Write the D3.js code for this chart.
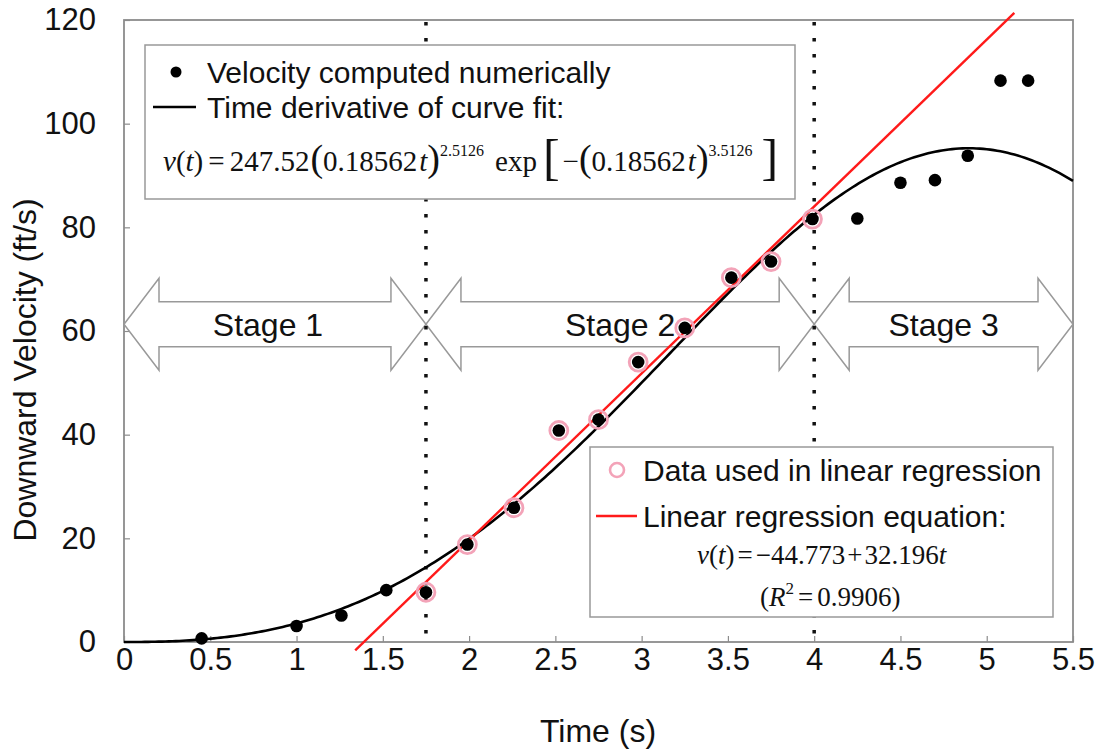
<!DOCTYPE html>
<html><head><meta charset="utf-8">
<script src="https://cdn.jsdelivr.net/npm/d3@7"></script>
<style>body{margin:0;background:#fff} svg{display:block}</style>
</head><body><svg id="c" width="1101" height="752"></svg>
<script>
// ---- data ----
const timeS = [0.45, 1.0, 1.26, 1.52, 1.75, 1.99, 2.26, 2.52, 2.75, 2.98, 3.25, 3.52, 3.75, 3.99, 4.25, 4.5, 4.7, 4.89, 5.08, 5.24];
const velocity = [0.7, 3.1, 5.1, 10.0, 9.6, 18.8, 25.9, 40.8, 42.9, 54.0, 60.6, 70.3, 73.4, 81.6, 81.7, 88.6, 89.1, 93.8, 108.3, 108.3];
const usedInRegression = [0,0,0,0,1,1,1,1,1,1,1,1,1,1,0,0,0,0,0,0];
const xTicks = [0, 0.5, 1, 1.5, 2, 2.5, 3, 3.5, 4, 4.5, 5, 5.5];
const xTickLabels = ["0","0.5","1","1.5","2","2.5","3","3.5","4","4.5","5","5.5"];
const yTicks = [0, 20, 40, 60, 80, 100, 120];
const yTickLabels = ["0","20","40","60","80","100","120"];
const stageBounds = [0, 1.75, 4.0, 5.5];
const stageLabels = ["Stage 1", "Stage 2", "Stage 3"];
const stageCenterV = 61.3;
const dividerTimes = [1.75, 4.0];
const fitParams = [247.52, 0.18562, 2.5126];   // v = A (b t)^c exp[-(b t)^(c+1)]
const regParams = [-44.773, 32.196];          // v = a + b t
const regRange = [1.34, 5.16];

// ---- layout ----
const svg = d3.select("#c");
const L = 124, R = 1073, T = 20, B = 642;
const x = d3.scaleLinear().domain([0, 5.5]).range([L, R]);
const y = d3.scaleLinear().domain([0, 120]).range([B, T]);
const SANS = "Liberation Sans, Arial, Helvetica, sans-serif";
const SERIF = "Liberation Serif, Times New Roman, serif";
const GRAY = "#8c8c8c";
const INK = "#111";

// axes
const gx = svg.append("g").attr("transform", `translate(0,${B})`)
  .call(d3.axisBottom(x).tickValues(xTicks).tickFormat((d,i)=>xTickLabels[i]).tickSizeInner(-6).tickSizeOuter(0).tickPadding(6));
const gy = svg.append("g").attr("transform", `translate(${L},0)`)
  .call(d3.axisLeft(y).tickValues(yTicks).tickFormat((d,i)=>yTickLabels[i]).tickSizeInner(-6).tickSizeOuter(0).tickPadding(28));
[gx, gy].forEach(g => {
  g.select(".domain").remove();
  g.selectAll(".tick line").attr("stroke", GRAY).attr("stroke-width", 1.2);
  g.selectAll(".tick text").attr("font-family", SANS).attr("font-size", 31).attr("fill", INK);
});
svg.append("rect").attr("x", L).attr("y", T).attr("width", R - L).attr("height", B - T)
  .attr("fill", "none").attr("stroke", GRAY).attr("stroke-width", 1.8);

svg.append("text").attr("x", 598).attr("y", 742).attr("text-anchor", "middle")
  .attr("font-family", SANS).attr("font-size", 32).attr("fill", INK).text("Time (s)");
svg.append("text").attr("transform", `translate(36,370) rotate(-90)`).attr("text-anchor", "middle")
  .attr("font-family", SANS).attr("font-size", 32).attr("fill", INK).text("Downward Velocity (ft/s)");

// stage arrows
const headLen = 35, headHalf = 46, shaftHalf = 22.5;
function arrowPath(t0, t1, v) {
  const x0 = x(t0), x1 = x(t1), yc = y(v);
  return `M${x0},${yc} L${x0+headLen},${yc-headHalf} L${x0+headLen},${yc-shaftHalf} L${x1-headLen},${yc-shaftHalf} L${x1-headLen},${yc-headHalf} L${x1},${yc} L${x1-headLen},${yc+headHalf} L${x1-headLen},${yc+shaftHalf} L${x0+headLen},${yc+shaftHalf} L${x0+headLen},${yc+headHalf} Z`;
}
stageLabels.forEach((lab, i) => {
  svg.append("path").attr("d", arrowPath(stageBounds[i], stageBounds[i+1], stageCenterV))
    .attr("fill", "none").attr("stroke", "#999").attr("stroke-width", 1.5).attr("stroke-linejoin", "miter");
  svg.append("text").attr("x", (x(stageBounds[i]) + x(stageBounds[i+1])) / 2 - (i === 0 ? 7 : 0)).attr("y", y(stageCenterV) + 12)
    .attr("text-anchor", "middle").attr("font-family", SANS).attr("font-size", 32).attr("fill", INK).text(lab);
});

// dotted dividers
dividerTimes.forEach(t => {
  svg.append("line").attr("x1", x(t)).attr("x2", x(t)).attr("y1", T + 2).attr("y2", B)
    .attr("stroke", INK).attr("stroke-width", 3.5).attr("stroke-dasharray", "3.5 12.5");
});

// fitted curve
const fitT = d3.range(0, 5.5001, 0.02);
const fitV = fitT.map(t => fitParams[0] * Math.pow(fitParams[1] * t, fitParams[2]) * Math.exp(-Math.pow(fitParams[1] * t, fitParams[2] + 1)));
svg.append("path").datum(fitT.map((t, i) => [t, fitV[i]]))
  .attr("d", d3.line().x(d => x(d[0])).y(d => y(d[1])))
  .attr("fill", "none").attr("stroke", "#000").attr("stroke-width", 2.6);

// regression line
svg.append("path").datum(regRange.map(t => [t, regParams[0] + regParams[1] * t]))
  .attr("d", d3.line().x(d => x(d[0])).y(d => y(d[1])))
  .attr("fill", "none").attr("stroke", "#ff1a1a").attr("stroke-width", 2.4);

// points
const pts = timeS.map((t, i) => ({t, v: velocity[i], reg: usedInRegression[i]}));
svg.selectAll(".ring").data(pts.filter(d => d.reg)).enter().append("circle")
  .attr("cx", d => x(d.t)).attr("cy", d => y(d.v)).attr("r", 9)
  .attr("fill", "none").attr("stroke", "#f3a3b8").attr("stroke-width", 2.8);
svg.selectAll(".dot").data(pts).enter().append("circle")
  .attr("cx", d => x(d.t)).attr("cy", d => y(d.v)).attr("r", 6.3).attr("fill", "#000");

function ts(parent, txt, opts = {}) {
  const s = parent.append("tspan").text(txt);
  if (opts.it) s.attr("font-style", "italic");
  if (opts.fs) s.attr("font-size", opts.fs);
  if (opts.dy !== undefined) s.attr("dy", opts.dy);
  if (opts.dx !== undefined) s.attr("dx", opts.dx);
  return s;
}

// legend 1
svg.append("rect").attr("x", 145).attr("y", 45).attr("width", 650).attr("height", 154)
  .attr("fill", "#fff").attr("stroke", "#999").attr("stroke-width", 1.5);
svg.append("circle").attr("cx", 176).attr("cy", 72).attr("r", 5.5).attr("fill", "#000");
svg.append("text").attr("x", 207).attr("y", 83).attr("font-family", SANS).attr("font-size", 30).attr("fill", INK).text("Velocity computed numerically");
svg.append("line").attr("x1", 153).attr("x2", 196).attr("y1", 107).attr("y2", 107).attr("stroke", "#000").attr("stroke-width", 2.6);
svg.append("text").attr("x", 207).attr("y", 118).attr("font-family", SANS).attr("font-size", 30).attr("fill", INK).text("Time derivative of curve fit:");

const eq1 = svg.append("text").attr("x", 163).attr("y", 171).attr("font-family", SERIF).attr("font-size", 29).attr("fill", INK);
ts(eq1, "v", {it: 1}); ts(eq1, "("); ts(eq1, "t", {it: 1}); ts(eq1, ")");
ts(eq1, "=", {dx: 5}); ts(eq1, "247.52", {dx: 5});
ts(eq1, "(", {fs: 38, dx: 1}); ts(eq1, "0.18562"); ts(eq1, "t", {it: 1, dx: 2}); ts(eq1, ")", {fs: 38});
ts(eq1, "2.5126", {fs: 16, dy: -15}); ts(eq1, "exp", {dy: 15, dx: 11});
ts(eq1, "[", {fs: 50, dx: 6, dy: 3}); ts(eq1, "\u2212", {dx: 3, dy: -3}); ts(eq1, "(", {fs: 38}); ts(eq1, "0.18562"); ts(eq1, "t", {it: 1, dx: 2}); ts(eq1, ")", {fs: 38});
ts(eq1, "3.5126", {fs: 16, dy: -15}); ts(eq1, "]", {fs: 50, dy: 18, dx: 9});

// legend 2
svg.append("rect").attr("x", 590).attr("y", 447).attr("width", 463).attr("height", 170)
  .attr("fill", "#fff").attr("stroke", "#999").attr("stroke-width", 1.5);
svg.append("circle").attr("cx", 617).attr("cy", 470).attr("r", 7).attr("fill", "none").attr("stroke", "#f3a3b8").attr("stroke-width", 2.6);
svg.append("text").attr("x", 643).attr("y", 481).attr("font-family", SANS).attr("font-size", 30).attr("fill", INK).text("Data used in linear regression");
svg.append("line").attr("x1", 596).attr("x2", 637).attr("y1", 516).attr("y2", 516).attr("stroke", "#ff1a1a").attr("stroke-width", 2.4);
svg.append("text").attr("x", 643).attr("y", 527).attr("font-family", SANS).attr("font-size", 30).attr("fill", INK).text("Linear regression equation:");
const eq2 = svg.append("text").attr("x", 697).attr("y", 564).attr("font-family", SERIF).attr("font-size", 27).attr("fill", INK);
ts(eq2, "v", {it: 1}); ts(eq2, "("); ts(eq2, "t", {it: 1}); ts(eq2, ")");
ts(eq2, "=", {dx: 3}); ts(eq2, "\u221244.773", {dx: 3}); ts(eq2, "+", {dx: 2}); ts(eq2, "32.196", {dx: 2}); ts(eq2, "t", {it: 1});
const eq3 = svg.append("text").attr("x", 760).attr("y", 606).attr("font-family", SERIF).attr("font-size", 27).attr("fill", INK);
ts(eq3, "("); ts(eq3, "R", {it: 1}); ts(eq3, "2", {fs: 17, dy: -12}); ts(eq3, "=", {dy: 12, dx: 4}); ts(eq3, "0.9906)", {dx: 4});
</script></body></html>
